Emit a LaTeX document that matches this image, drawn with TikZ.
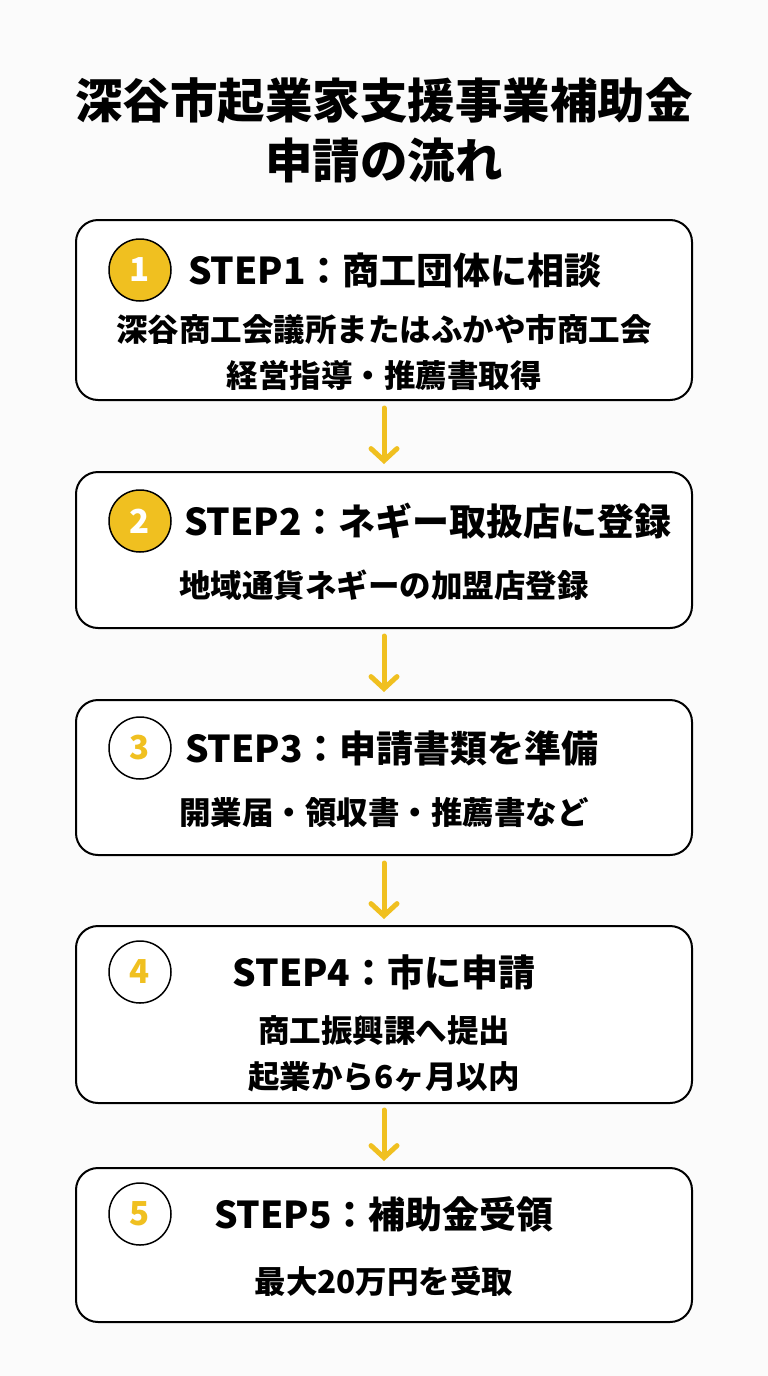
\documentclass[tikz,border=0pt]{standalone}
\usepackage{fontspec}
\usetikzlibrary{arrows.meta}
\setmainfont{Noto Sans CJK JP}
\definecolor{ylw}{HTML}{F0C020}
\begin{document}
\begin{tikzpicture}[x=1pt,y=-1pt,
  box/.style={draw=black,line width=2pt,rounded corners=22pt,fill=white},
  num/.style={circle,draw=black,line width=1.5pt,minimum size=62pt,inner sep=0pt,font=\bfseries\fontsize{33}{33}\selectfont},
  ttl/.style={font=\bfseries\fontsize{37}{37}\selectfont,inner sep=0pt},
  sub/.style={font=\bfseries\fontsize{31.5}{46}\selectfont,align=center,inner sep=0pt},
  arr/.style={draw=ylw,line width=5pt,line cap=round,-{Straight Barb[length=12pt,width=26pt,line cap=round]}}]
\fill[white!97!gray] (0,0) rectangle (768,1376);
\useasboundingbox (0,0) rectangle (768,1376);
\node[font=\bfseries\fontsize{47.5}{60}\selectfont,align=center] (title) at (384,130) {深谷市起業家支援事業補助金\\申請の流れ};
% boxes
\draw[box] (76,220) rectangle (692,400);
\draw[box] (76,472) rectangle (692,628);
\draw[box] (76,700) rectangle (692,855);
\draw[box] (76,926) rectangle (692,1103);
\draw[box] (76,1168) rectangle (692,1322);
\node[num,fill=ylw,text=white] (n1) at (140,270) {1};
\node[num,fill=ylw,text=white] (n2) at (140,521) {2};
\node[num,fill=white,text=ylw] (n3) at (140,748) {3};
\node[num,fill=white,text=ylw] (n4) at (140,972) {4};
\node[num,fill=white,text=ylw] (n5) at (140,1214) {5};
\node[ttl] (t1) at (395,270) {STEP1：商工団体に相談};
\node[ttl] (t2) at (428,521) {STEP2：ネギー取扱店に登録};
\node[ttl] (t3) at (392,748) {STEP3：申請書類を準備};
\node[ttl] (t4) at (384,972) {STEP4：市に申請};
\node[ttl] (t5) at (384,1214) {STEP5：補助金受領};
\node[sub] (s1) at (384,353) {深谷商工会議所またはふかや市商工会\\経営指導・推薦書取得};
\node[sub] (s2) at (384,585) {地域通貨ネギーの加盟店登録};
\node[sub] (s3) at (384,813) {開業届・領収書・推薦書など};
\node[sub] (s4) at (384,1054) {商工振興課へ提出\\起業から6ヶ月以内};
\node[sub] (s5) at (384,1281) {最大20万円を受取};
\coordinate (a1) at (384,408); \coordinate (a1e) at (384,464);
\coordinate (a2) at (384,636); \coordinate (a2e) at (384,692);
\coordinate (a3) at (384,863); \coordinate (a3e) at (384,919);
\coordinate (a4) at (384,1110); \coordinate (a4e) at (384,1161);
\draw[arr] (a1) -- (a1e);
\draw[arr] (a2) -- (a2e);
\draw[arr] (a3) -- (a3e);
\draw[arr] (a4) -- (a4e);
\end{tikzpicture}
\end{document}
